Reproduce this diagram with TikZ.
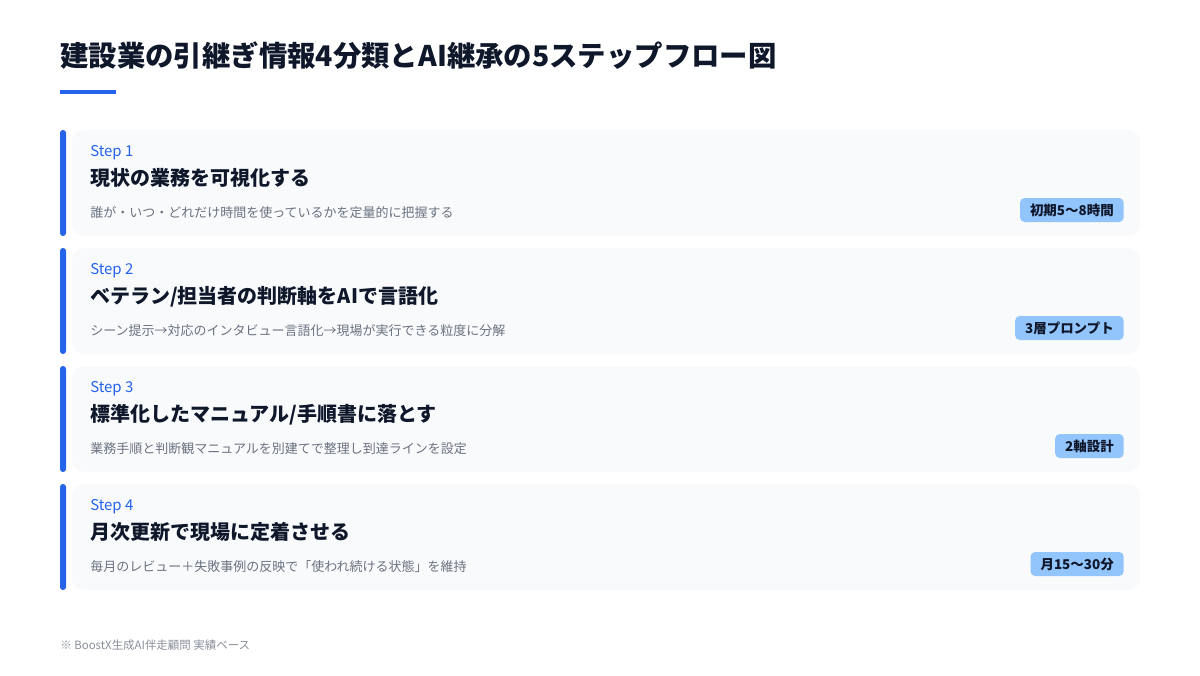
\documentclass[tikz,border=0pt]{standalone}
\usepackage{fontspec}
\setmainfont{Noto Sans CJK JP}
\newfontfamily\jp{Noto Sans CJK JP}
\definecolor{ink}{HTML}{0F172A}
\definecolor{accent}{HTML}{2563EB}
\definecolor{cardbg}{HTML}{F8FAFC}
\definecolor{muted}{HTML}{6B7280}
\definecolor{badgebg}{HTML}{93C5FD}
\definecolor{footgray}{HTML}{8A909A}
\tikzset{
  titletext/.style={anchor=base west, inner sep=0pt, text=ink, font=\jp\bfseries\fontsize{21.3}{25}\selectfont},
  steplabel/.style={anchor=base west, inner sep=0pt, text=accent, font=\jp\fontsize{11.2}{13}\selectfont},
  cardtitle/.style={anchor=base west, inner sep=0pt, text=ink, font=\jp\bfseries\fontsize{15}{18}\selectfont},
  desctext/.style={anchor=base west, inner sep=0pt, text=muted, font=\jp\fontsize{9.75}{12}\selectfont},
  badge/.style={anchor=east, fill=badgebg, rounded corners=3.5pt, text=ink, inner xsep=7.5pt, inner ysep=0pt, minimum height=18pt, font=\jp\bfseries\fontsize{10.1}{12}\selectfont},
  card/.style={fill=cardbg, rounded corners=9pt, draw=none},
  accentbar/.style={fill=accent, rounded corners=2.2pt, draw=none},
  foottext/.style={anchor=base west, inner sep=0pt, text=footgray, font=\jp\fontsize{8.6}{10}\selectfont},
}
\begin{document}
\begin{tikzpicture}[x=0.75pt, y=-0.75pt]
\fill[white] (0,0) rectangle (1200,675);
\useasboundingbox (0,0) rectangle (1200,675);
\node[titletext] (title) at (60,66) {建設業の引継ぎ情報4分類とAI継承の5ステップフロー図};
\fill[accent] (60,90) rectangle (116,94);
\foreach \i/\top/\lab/\ttl/\dsc/\bdg in {
  1/130/Step 1/現状の業務を可視化する/誰が・いつ・どれだけ時間を使っているかを定量的に把握する/初期5〜8時間,
  2/248/Step 2/ベテラン{/}担当者の判断軸をAIで言語化/シーン提示→対応のインタビュー言語化→現場が実行できる粒度に分解/3層プロンプト,
  3/366/Step 3/標準化したマニュアル{/}手順書に落とす/業務手順と判断観マニュアルを別建てで整理し到達ラインを設定/2軸設計,
  4/484/Step 4/月次更新で現場に定着させる/毎月のレビュー＋失敗事例の反映で「使われ続ける状態」を維持/月15〜30分}{
  \fill[card] (72,\top) rectangle (1140,\top+106);
  \fill[accentbar] (60,\top) rectangle (66,\top+106);
  \node[steplabel] (s\i) at (90,\top+26) {\lab};
  \node[cardtitle] (t\i) at (90,\top+55) {\ttl};
  \node[desctext] (d\i) at (90,\top+87) {\dsc};
  \node[badge] (b\i) at (1124,\top+80) {\bdg};
}
\node[foottext] (foot) at (60,649) {※ BoostX生成AI伴走顧問 実績ベース};
\end{tikzpicture}
\end{document}
